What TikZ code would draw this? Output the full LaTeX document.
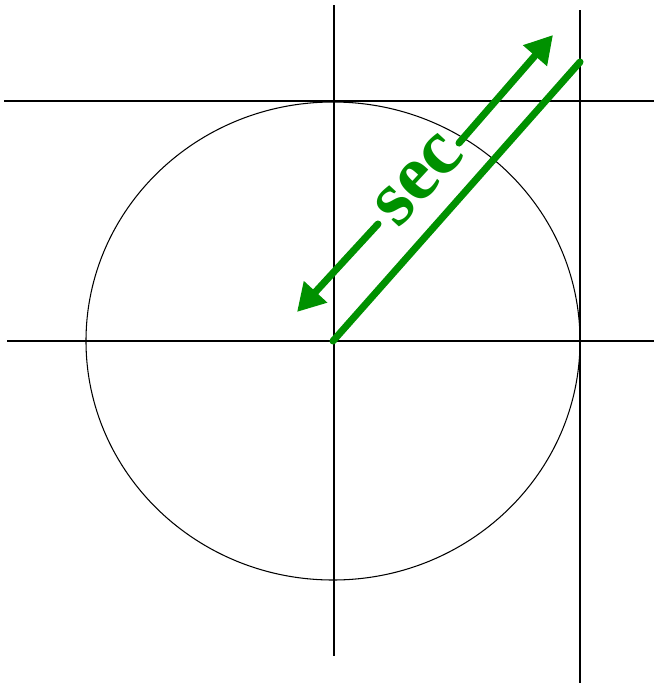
\documentclass[tikz,border=0pt]{standalone}
\usepackage{fontspec}
\setmainfont{Liberation Serif}
\usetikzlibrary{arrows.meta}
\definecolor{secgreen}{HTML}{009100}
\tikzset{
  axisln/.style  = {line width=0.9pt},
  unitcirc/.style = {line width=0.6pt},
  secln/.style   = {draw=secgreen,line width=4pt,line cap=round},
  secarr/.style  = {secln,-{Triangle[length=5.5mm,width=6mm]}},
  seclbl/.style  = {text=secgreen,inner sep=0pt,rotate=47.3,
                    font=\fontsize{45}{45}\selectfont\bfseries},
}

\begin{document}
\begin{tikzpicture}[x=0.2mm,y=-0.2mm]
  \useasboundingbox (0,0) rectangle (654,685);
  % centre and circle
  \coordinate (O) at (333,341);
  \draw[unitcirc] (O) ellipse [x radius=247,y radius=239];
  % axes and tangent lines
  \coordinate (xl) at (7,341);   \coordinate (xr) at (654,341);
  \coordinate (yt) at (334,5);   \coordinate (yb) at (334,656);
  \coordinate (tl) at (4,101);   \coordinate (tr) at (654,101);
  \coordinate (vt) at (580,10);  \coordinate (vb) at (580,683);
  \draw[axisln] (xl) -- (xr);
  \draw[axisln] (yt) -- (yb);
  \draw[axisln] (tl) -- (tr);
  \draw[axisln] (vt) -- (vb);
  % secant segment
  \coordinate (P) at (580,62);
  \draw[secln] (O) -- (P);
  % label with double arrow
  \node[seclbl] (sec) at (419,180) {sec};
  \coordinate (a1) at (378,224); \coordinate (a2) at (297,312);
  \coordinate (b1) at (459,143); \coordinate (b2) at (553,35);
  \draw[secarr] (a1) -- (a2);
  \draw[secarr] (b1) -- (b2);
\end{tikzpicture}
\end{document}
